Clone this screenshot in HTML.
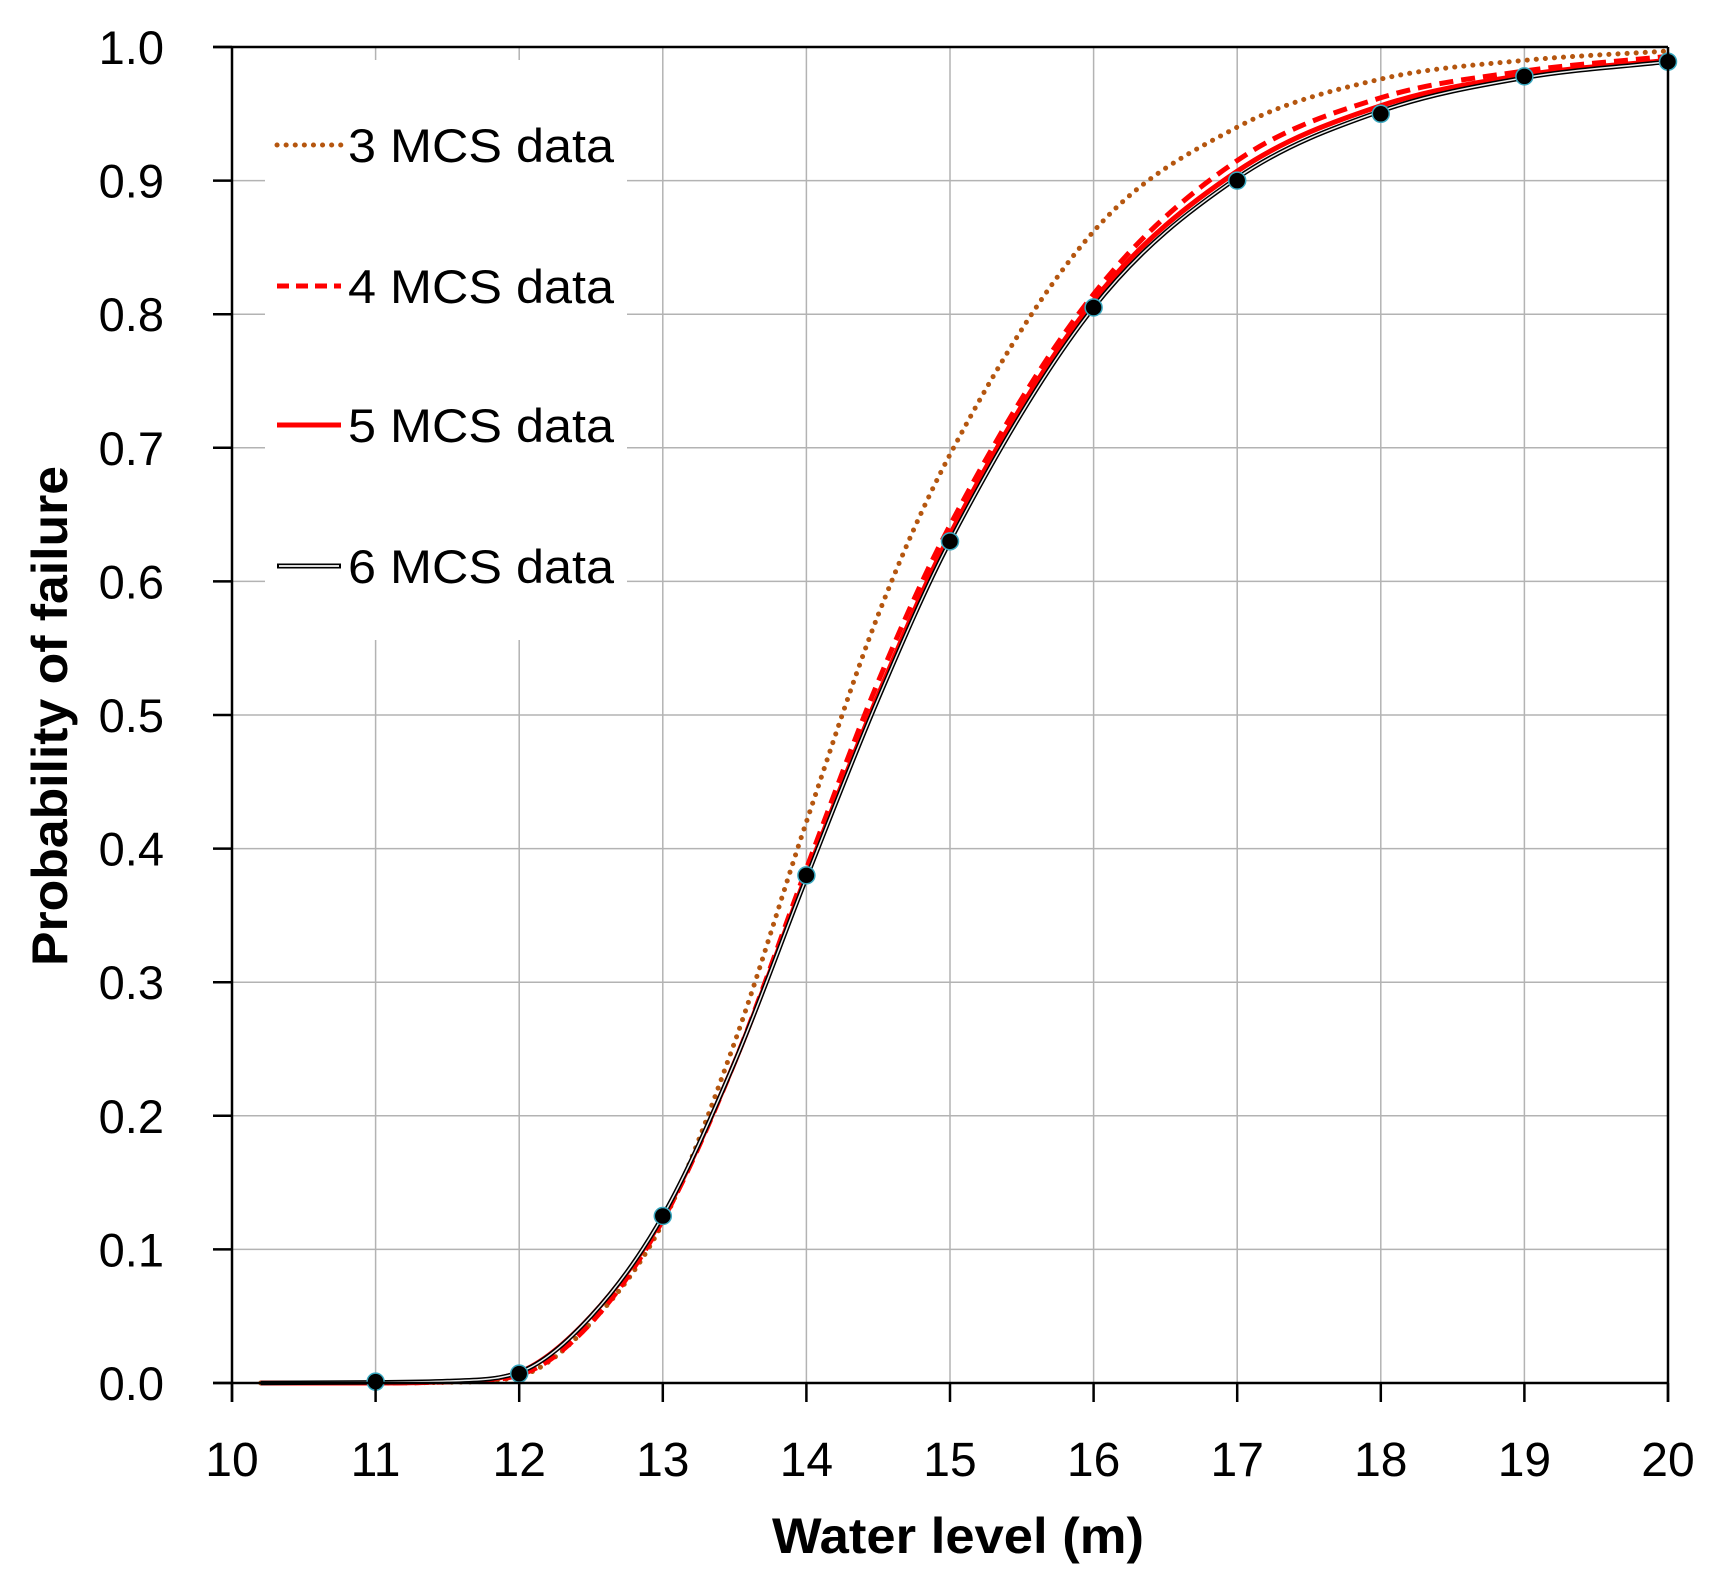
<!DOCTYPE html>
<html><head><meta charset="utf-8"><style>
html,body{margin:0;padding:0;background:#fff;}
svg{display:block;font-family:"Liberation Sans",sans-serif;}
</style></head><body>
<svg id="s" width="1727" height="1583" viewBox="0 0 1727 1583" xmlns="http://www.w3.org/2000/svg">
<rect width="1727" height="1583" fill="#fff"/>
<g id="grid" stroke="#b3b3b3" stroke-width="1.5"></g>
<rect x="265" y="60" width="362" height="580" fill="#fff"/>
<g id="curves" fill="none"></g>
<g id="marks"></g>
<g stroke="#000" stroke-width="2.5" fill="none">
<line x1="232" y1="47" x2="232" y2="1402"/>
<line x1="213" y1="1383" x2="1668" y2="1383"/>
<line x1="213" y1="47" x2="1668" y2="47"/>
<line x1="1668" y1="47" x2="1668" y2="1402"/>
</g>
<g id="ticks" stroke="#000" stroke-width="2.5"></g>
<g id="labels" font-size="47" fill="#000"></g>
<g font-size="47" fill="#000">
<line x1="277" y1="145" x2="341" y2="145" stroke="#b5560f" stroke-width="5" stroke-dasharray="0.1,9" stroke-linecap="round"/>
<text x="348" y="162" textLength="266" lengthAdjust="spacingAndGlyphs">3 MCS data</text>
<line x1="277" y1="286" x2="341" y2="286" stroke="#f00" stroke-width="5" stroke-dasharray="12,7"/>
<text x="348" y="303" textLength="266" lengthAdjust="spacingAndGlyphs">4 MCS data</text>
<line x1="277" y1="425" x2="341" y2="425" stroke="#f00" stroke-width="5"/>
<text x="348" y="442" textLength="266" lengthAdjust="spacingAndGlyphs">5 MCS data</text>
<line x1="277" y1="566" x2="341" y2="566" stroke="#000" stroke-width="5"/>
<line x1="279" y1="566" x2="339" y2="566" stroke="#ddd" stroke-width="2"/>
<text x="348" y="583" textLength="266" lengthAdjust="spacingAndGlyphs">6 MCS data</text>
</g>
<text x="958" y="1553" font-size="50" font-weight="bold" text-anchor="middle" textLength="372" lengthAdjust="spacingAndGlyphs">Water level (m)</text>
<text transform="translate(67,716) rotate(-90)" font-size="50" font-weight="bold" text-anchor="middle" textLength="500" lengthAdjust="spacingAndGlyphs">Probability of failure</text>
</svg>
<script>
const NS="http://www.w3.org/2000/svg";
const X=v=>232+(v-10)*143.6, Y=p=>1383-p*1336;
function el(parent,tag,attrs,text){const e=document.createElementNS(NS,tag);for(const k in attrs)e.setAttribute(k,attrs[k]);if(text!==undefined)e.textContent=text;document.getElementById(parent).appendChild(e);return e;}
for(let i=11;i<=19;i++)el("grid","line",{x1:X(i),y1:47,x2:X(i),y2:1383});
for(let j=1;j<=9;j++)el("grid","line",{x1:232,y1:Y(j/10),x2:1668,y2:Y(j/10)});
for(let i=10;i<=20;i++){el("ticks","line",{x1:X(i),y1:1383,x2:X(i),y2:1402});el("labels","text",{x:X(i),y:1476,"text-anchor":"middle","font-size":48},String(i));}
for(let j=0;j<=10;j++){el("ticks","line",{x1:213,y1:Y(j/10),x2:232,y2:Y(j/10)});el("labels","text",{x:164,y:Y(j/10)+17,"text-anchor":"end"},(j/10).toFixed(1));}
function mono(xs,ys){const n=xs.length,d=[],m=[];for(let i=0;i<n-1;i++)d.push((ys[i+1]-ys[i])/(xs[i+1]-xs[i]));m[0]=d[0];m[n-1]=d[n-2];for(let i=1;i<n-1;i++){m[i]=(d[i-1]*d[i]<=0)?0:(d[i-1]+d[i])/2;}
for(let i=0;i<n-1;i++){if(d[i]==0){m[i]=m[i+1]=0;continue;}const a=m[i]/d[i],b=m[i+1]/d[i],s=a*a+b*b;if(s>9){const t=3/Math.sqrt(s);m[i]=t*a*d[i];m[i+1]=t*b*d[i];}}
let p="";for(let i=0;i<n-1;i++){const h=xs[i+1]-xs[i];if(i==0)p+="M"+X(xs[0])+","+Y(ys[0]);p+=" C"+X(xs[i]+h/3)+","+Y(ys[i]+m[i]*h/3)+" "+X(xs[i+1]-h/3)+","+Y(ys[i+1]-m[i+1]*h/3)+" "+X(xs[i+1])+","+Y(ys[i+1]);}return p;}
const xs=[10.2,11,11.5,12,12.5,13,13.5,14,14.5,15,16,17,18,19,20];
const c3=[0,0,0.0005,0.005,0.045,0.12,0.255,0.42,0.575,0.695,0.862,0.94,0.976,0.99,0.997];
const c4=[0,0,0.0008,0.006,0.045,0.122,0.24,0.385,0.525,0.642,0.815,0.915,0.962,0.982,0.993];
const c5=[0,0,0.001,0.008,0.05,0.124,0.24,0.38,0.515,0.635,0.81,0.907,0.956,0.979,0.99];
const c6=[0,0.0005,0.0015,0.008,0.05,0.125,0.24,0.378,0.512,0.63,0.805,0.902,0.952,0.977,0.989];
el("curves","path",{d:mono(xs,c3),stroke:"#b5560f","stroke-width":5,"stroke-dasharray":"0.1,9","stroke-linecap":"round"});
el("curves","path",{d:mono(xs,c4),stroke:"#f00","stroke-width":5,"stroke-dasharray":"14,8"});
el("curves","path",{d:mono(xs,c5),stroke:"#f00","stroke-width":5});
el("curves","path",{d:mono(xs,c6),stroke:"#000","stroke-width":4.5});
el("curves","path",{d:mono(xs,c6),stroke:"#eee","stroke-width":1.5});
const pts=[[11,0.001],[12,0.007],[13,0.125],[14,0.38],[15,0.63],[16,0.805],[17,0.90],[18,0.95],[19,0.978],[20,0.989]];
for(const [a,b] of pts)el("marks","circle",{cx:X(a),cy:Y(b),r:8.5,fill:"#000",stroke:"#3aa8c0","stroke-width":1.5});
</script>
</body></html>
